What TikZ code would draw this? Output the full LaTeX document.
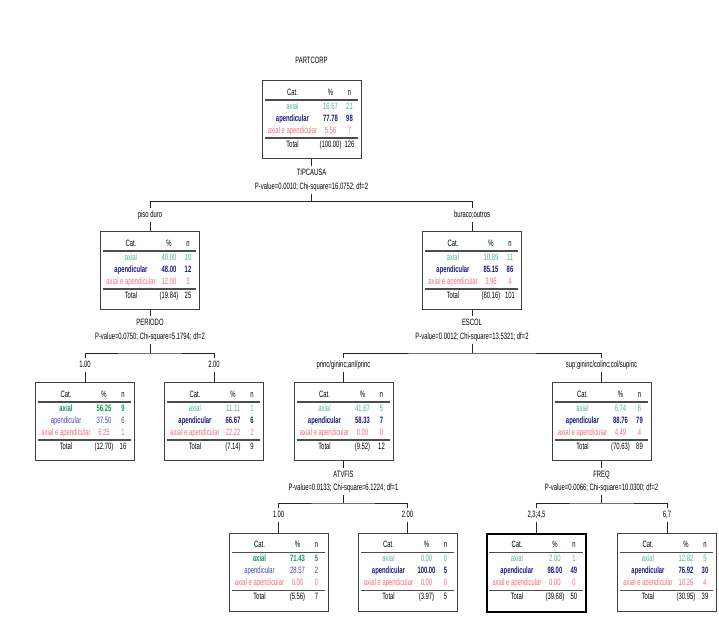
\documentclass[tikz,border=0pt]{standalone}
\usepackage{fontspec}
\setmainfont{Liberation Sans}[FakeStretch=0.64]
\definecolor{gA}{RGB}{80,185,140}
\definecolor{gAd}{RGB}{20,150,90}
\definecolor{bB}{RGB}{70,70,180}
\definecolor{bBd}{RGB}{25,25,125}
\definecolor{pC}{RGB}{245,110,125}
\newcommand\tf{\fontsize{9.2}{11}\selectfont}
\newcommand\cA[1]{{\ifnum\bw=1 \bfseries\color{gAd}\else\color{gA}\fi#1}}
\newcommand\cB[1]{{\ifnum\bw=2 \bfseries\color{bBd}\else\color{bB}\fi#1}}
\newcommand\cC[1]{{\color{pC}#1}}
\newcommand\tabc[8]{%
 \node (\cur-hc) at ([shift={(31,13)}]\cur.north west) {Cat.};
 \node (\cur-hp) at ([shift={(69,13)}]\cur.north west) {\%};
 \node (\cur-hn) at ([shift={(88,13)}]\cur.north west) {n};
 \draw[rule] ([shift={(3,20)}]\cur.north west) -- ([shift={(-4,20)}]\cur.north east);
 \node (\cur-a1) at ([shift={(31,27)}]\cur.north west) {\cA{axial}};
 \node (\cur-a2) at ([shift={(69,27)}]\cur.north west) {\cA{#1}};
 \node (\cur-a3) at ([shift={(88,27)}]\cur.north west) {\cA{#2}};
 \node (\cur-b1) at ([shift={(31,39)}]\cur.north west) {\cB{apendicular}};
 \node (\cur-b2) at ([shift={(69,39)}]\cur.north west) {\cB{#3}};
 \node (\cur-b3) at ([shift={(88,39)}]\cur.north west) {\cB{#4}};
 \node (\cur-c1) at ([shift={(31,51)}]\cur.north west) {\cC{axial e apendicular}};
 \node (\cur-c2) at ([shift={(69,51)}]\cur.north west) {\cC{#5}};
 \node (\cur-c3) at ([shift={(88,51)}]\cur.north west) {\cC{#6}};
 \draw[rule] ([shift={(3,58)}]\cur.north west) -- ([shift={(-4,58)}]\cur.north east);
 \node (\cur-t1) at ([shift={(31,65)}]\cur.north west) {Total};
 \node (\cur-t2) at ([shift={(69,65)}]\cur.north west) {#7};
 \node (\cur-t3) at ([shift={(88,65)}]\cur.north west) {#8};
}
\begin{document}
\begin{tikzpicture}[
 x=1pt,y=-1pt,
 every node/.style={font=\tf, inner sep=0pt, text height=6.6pt, text depth=1.8pt},
 tbox/.style={draw=black!75, line width=1pt, minimum width=99pt, minimum height=78pt, anchor=north, inner sep=0pt},
 thickbox/.style={tbox, draw=black, line width=2.2pt},
 lbl/.style={inner xsep=1pt, inner ysep=2.6pt},
 rule/.style={draw=black!70, line width=1.2pt},
 conn/.style={draw=black!85, line width=0.6pt}
]
\useasboundingbox[fill=white] (0,0) rectangle (719,618);

% root
\node[lbl] (PARTCORP) at (311.5,61) {PARTCORP};
\node[tbox] (root) at (311.5,80) {};
\def\cur{root}\def\bw{2}\tabc{16.67}{21}{77.78}{98}{5.56}{7}{(100.00)}{126}
\node[lbl] (v0) at (311.5,173) {TIPCAUSA};
\node[lbl] (p0) at (311.5,187) {P-value=0.0010; Chi-square=16.0752; df=2};
\coordinate (h0) at (311.5,201.5);
\draw[conn] (root.south) -- (v0.north);
\draw[conn] (p0.south) -- (h0);
\node[lbl] (l1) at (150,215) {piso duro};
\node[lbl] (l2) at (472,215) {buraco;outros};
\draw[conn] (l1.north) |- (h0) -| (l2.north);

% level 2
\node[tbox] (b1) at (150,231) {};
\def\cur{b1}\def\bw{2}\tabc{40.00}{10}{48.00}{12}{12.00}{3}{(19.84)}{25}
\node[tbox] (b2) at (472,231) {};
\def\cur{b2}\def\bw{2}\tabc{10.89}{11}{85.15}{86}{3.96}{4}{(80.16)}{101}
\draw[conn] (l1.south) -- (b1.north);
\draw[conn] (l2.south) -- (b2.north);

% split of b1
\node[lbl] (v1) at (150,323) {PERIODO};
\node[lbl] (p1) at (150,337) {P-value=0.0750; Chi-square=5.1794; df=2};
\coordinate (h1) at (150,353);
\draw[conn] (b1.south) -- (v1.north);
\draw[conn] (p1.south) -- (h1);
\node[lbl] (l11) at (85,365) {1.00};
\node[lbl] (l12) at (214,365) {2.00};
\draw[conn] (l11.north) |- (h1) -| (l12.north);

% split of b2
\node[lbl] (v2) at (472,323) {ESCOL};
\node[lbl] (p2) at (472,337) {P-value=0.0012; Chi-square=13.5321; df=2};
\coordinate (h2) at (472,353);
\draw[conn] (b2.south) -- (v2.north);
\draw[conn] (p2.south) -- (h2);
\node[lbl] (l21) at (343.5,365) {princ/gininc;anl/princ};
\node[lbl] (l22) at (601.5,365) {sup;gininc/colinc;col/supinc};
\draw[conn] (l21.north) |- (h2) -| (l22.north);

% level 3
\node[tbox] (b11) at (85,382) {};
\def\cur{b11}\def\bw{1}\tabc{56.25}{9}{37.50}{6}{6.25}{1}{(12.70)}{16}
\node[tbox] (b12) at (214,382) {};
\def\cur{b12}\def\bw{2}\tabc{11.11}{1}{66.67}{6}{22.22}{2}{(7.14)}{9}
\node[tbox] (b21) at (343.5,382) {};
\def\cur{b21}\def\bw{2}\tabc{41.67}{5}{58.33}{7}{0.00}{0}{(9.52)}{12}
\node[tbox] (b22) at (601.5,382) {};
\def\cur{b22}\def\bw{2}\tabc{6.74}{6}{88.76}{79}{4.49}{4}{(70.63)}{89}
\draw[conn] (l11.south) -- (b11.north);
\draw[conn] (l12.south) -- (b12.north);
\draw[conn] (l21.south) -- (b21.north);
\draw[conn] (l22.south) -- (b22.north);

% split of b21
\node[lbl] (v3) at (343.5,475) {ATVFIS};
\node[lbl] (p3) at (343.5,488) {P-value=0.0133; Chi-square=6.1224; df=1};
\coordinate (h3) at (343.5,503);
\draw[conn] (b21.south) -- (v3.north);
\draw[conn] (p3.south) -- (h3);
\node[lbl] (l211) at (278.5,515) {1.00};
\node[lbl] (l212) at (407.5,515) {2.00};
\draw[conn] (l211.north) |- (h3) -| (l212.north);

% split of b22
\node[lbl] (v4) at (601.5,475) {FREQ};
\node[lbl] (p4) at (601.5,488) {P-value=0.0066; Chi-square=10.0300; df=2};
\coordinate (h4) at (601.5,503);
\draw[conn] (b22.south) -- (v4.north);
\draw[conn] (p4.south) -- (h4);
\node[lbl] (l221) at (536.5,515) {2,3;4,5};
\node[lbl] (l222) at (667,515) {6,7};
\draw[conn] (l221.north) |- (h4) -| (l222.north);

% level 4
\node[tbox] (b211) at (278.5,532.5) {};
\def\cur{b211}\def\bw{1}\tabc{71.43}{5}{28.57}{2}{0.00}{0}{(5.56)}{7}
\node[tbox] (b212) at (407.5,532.5) {};
\def\cur{b212}\def\bw{2}\tabc{0.00}{0}{100.00}{5}{0.00}{0}{(3.97)}{5}
\node[thickbox] (b221) at (536.5,532.5) {};
\def\cur{b221}\def\bw{2}\tabc{2.00}{1}{98.00}{49}{0.00}{0}{(39.68)}{50}
\node[tbox] (b222) at (667,532.5) {};
\def\cur{b222}\def\bw{2}\tabc{12.82}{5}{76.92}{30}{10.26}{4}{(30.95)}{39}
\draw[conn] (l211.south) -- (b211.north);
\draw[conn] (l212.south) -- (b212.north);
\draw[conn] (l221.south) -- (b221.north);
\draw[conn] (l222.south) -- (b222.north);
\end{tikzpicture}
\end{document}
